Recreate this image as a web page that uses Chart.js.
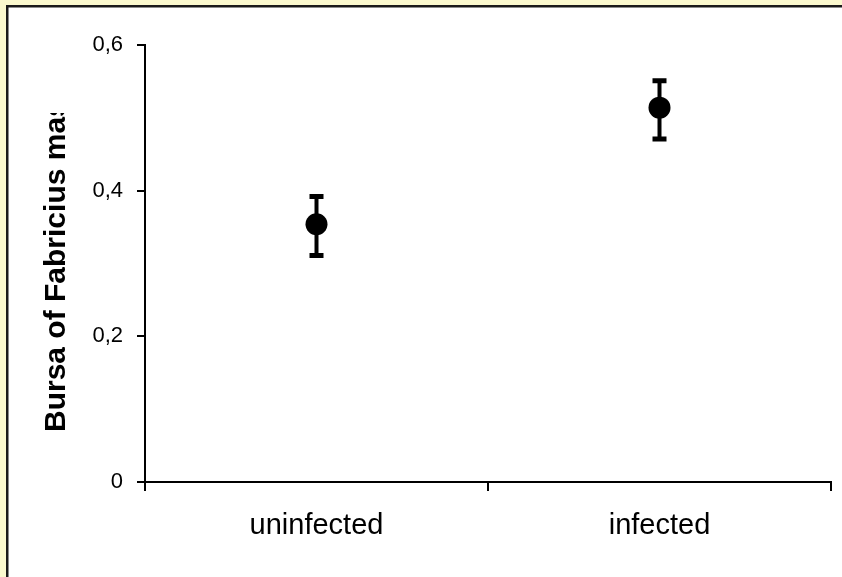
<!DOCTYPE html>
<html><head><meta charset="utf-8">
<script src="https://cdn.jsdelivr.net/npm/chart.js@4"></script>
<style>html,body{margin:0;padding:0;background:#FBF9CE;overflow:hidden}#wrap{width:842px;height:577px;position:relative}</style>
</head><body><div id="wrap"><canvas id="c" width="842" height="577"></canvas></div>
<script>
const categories = ['uninfected', 'infected'];
const meanValues = [0.354, 0.514];
const errorLow = [0.311, 0.471];
const errorHigh = [0.392, 0.551];
const yTickValues = [0, 0.2, 0.4, 0.6];
const yTickLabels = ['0', '0,2', '0,4', '0,6'];
const yTitle = 'Bursa of Fabricius mass';

const FONT = '"Liberation Sans", Arial, sans-serif';

const framePlugin = {
  id: 'frame',
  beforeDraw(chart) {
    const ctx = chart.ctx;
    ctx.save();
    ctx.fillStyle = '#FBF9CE';
    ctx.fillRect(0, 0, chart.width, chart.height);
    ctx.fillStyle = '#ffffff';
    ctx.fillRect(8, 7, chart.width - 8, chart.height - 7);
    ctx.fillStyle = '#1a1a1a';
    ctx.fillRect(6, 5, 2.5, chart.height - 5);
    ctx.fillRect(6, 5, chart.width - 6, 2.5);
    ctx.restore();
  },
  beforeDatasetsDraw(chart) {
    const ctx = chart.ctx;
    const xs = chart.scales.x, ys = chart.scales.y;
    ctx.save();
    ctx.strokeStyle = '#000';
    ctx.lineCap = 'butt';
    for (let i = 0; i < categories.length; i++) {
      const x = xs.getPixelForValue(i);
      const yl = ys.getPixelForValue(errorLow[i]);
      const yh = ys.getPixelForValue(errorHigh[i]);
      ctx.lineWidth = 4;
      ctx.beginPath();
      ctx.moveTo(x, yl); ctx.lineTo(x, yh);
      ctx.stroke();
      ctx.lineWidth = 5;
      ctx.beginPath();
      ctx.moveTo(x - 7, yl); ctx.lineTo(x + 7, yl);
      ctx.moveTo(x - 7, yh); ctx.lineTo(x + 7, yh);
      ctx.stroke();
    }
    ctx.restore();
  },
  afterDraw(chart) {
    const ctx = chart.ctx;
    ctx.save();
    ctx.beginPath();
    ctx.rect(0, 113, 140, chart.height - 113);
    ctx.clip();
    ctx.translate(65, 432);
    ctx.rotate(-Math.PI / 2);
    ctx.font = 'bold 30px ' + FONT;
    ctx.fillStyle = '#000';
    ctx.textAlign = 'left';
    ctx.textBaseline = 'alphabetic';
    ctx.fillText(yTitle, 0, 0);
    ctx.restore();
  }
};

new Chart(document.getElementById('c'), {
  type: 'line',
  data: {
    labels: categories,
    datasets: [{
      data: meanValues,
      showLine: false,
      pointRadius: 11,
      pointHoverRadius: 11,
      pointBackgroundColor: '#000',
      pointBorderWidth: 0,
      pointStyle: 'circle'
    }]
  },
  options: {
    responsive: false,
    animation: false,
    events: [],
    layout: { padding: { left: 0, right: 8, top: 45, bottom: 0 } },
    plugins: { legend: { display: false }, tooltip: { enabled: false }, title: { display: false } },
    scales: {
      x: {
        type: 'category',
        offset: true,
        afterFit(s) { s.height = 95; },
        grid: { offset: true, drawOnChartArea: false, drawTicks: true, tickLength: 9, color: '#000', lineWidth: 2 },
        border: { display: true, color: '#000', width: 2 },
        ticks: { color: '#000', font: { family: FONT, size: 29 }, padding: 18, maxRotation: 0 }
      },
      y: {
        min: 0, max: 0.6,
        afterFit(s) { s.width = 145; },
        afterBuildTicks(s) { s.ticks = yTickValues.map(v => ({ value: v })); },
        grid: { drawOnChartArea: false, drawTicks: true, tickLength: 8, color: '#000', lineWidth: 2 },
        border: { display: true, color: '#000', width: 2 },
        ticks: {
          color: '#000', font: { family: FONT, size: 22 }, padding: 14,
          callback(v, i) { return yTickLabels[i]; }
        }
      }
    }
  },
  plugins: [framePlugin]
});
</script></body></html>
